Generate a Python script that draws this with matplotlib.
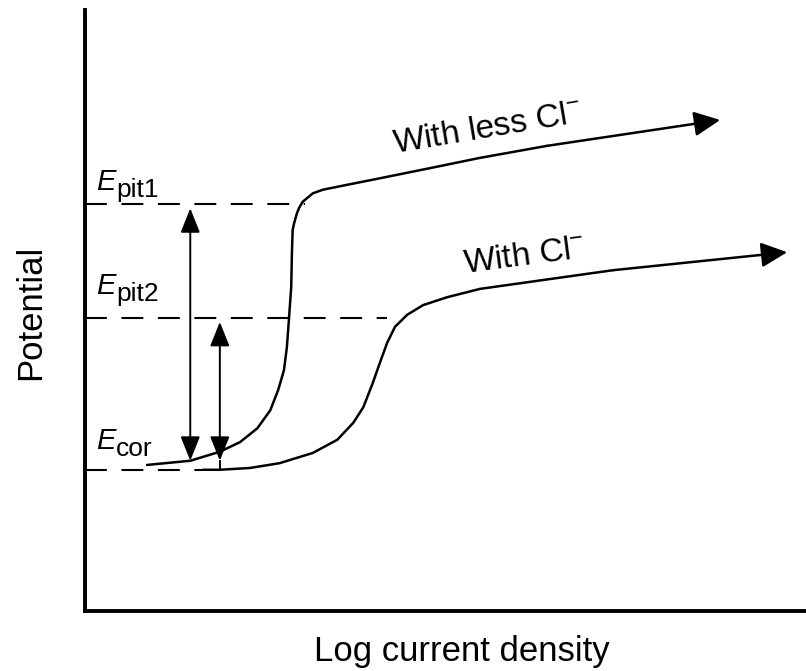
import matplotlib.pyplot as plt

plt.rcParams['font.family'] = ['Liberation Sans', 'DejaVu Sans']
plt.rcParams['mathtext.fontset'] = 'custom'
plt.rcParams['mathtext.rm'] = 'Liberation Sans'
plt.rcParams['mathtext.it'] = 'Liberation Sans:italic'

# characteristic potentials (arbitrary units)
e_pit1 = 6.77
e_pit2 = 4.88
e_cor = 2.35

# polarization curve with less chloride (last point = arrow tip)
less_cl_x = [0.86, 1.46, 1.87, 2.15, 2.39, 2.57, 2.68, 2.76, 2.80, 2.83, 2.86,
             2.87, 2.88, 2.90, 2.94, 2.97, 3.02, 3.09, 3.16, 3.30, 3.63, 4.09,
             4.79, 5.48, 6.41, 8.81]
less_cl_y = [2.43, 2.50, 2.65, 2.81, 3.04, 3.34, 3.68, 4.01, 4.39, 4.88, 5.39,
             5.96, 6.34, 6.45, 6.62, 6.71, 6.81, 6.88, 6.95, 7.01, 7.09, 7.20,
             7.37, 7.54, 7.74, 8.17]

# polarization curve with chloride (last point = arrow tip)
cl_x = [1.64, 1.87, 2.29, 2.70, 3.16, 3.50, 3.72, 3.86, 3.99, 4.09, 4.19,
        4.30, 4.47, 4.69, 5.02, 5.48, 7.32, 9.74]
cl_y = [2.35, 2.35, 2.38, 2.46, 2.63, 2.85, 3.13, 3.39, 3.79, 4.13, 4.46,
        4.73, 4.93, 5.09, 5.22, 5.36, 5.67, 5.97]

# where the dashed level lines stop
pit1_end = 3.05
pit2_end = 4.19
cor_end = 1.64

fig = plt.figure(figsize=(8.06, 6.71), dpi=100)
ax = fig.add_axes([85 / 806, 60 / 671, 721 / 806, 601 / 671])
ax.set_xlim(0, 10)
ax.set_ylim(0, 10)

for side in ['top', 'right']:
    ax.spines[side].set_visible(False)
for side in ['left', 'bottom']:
    ax.spines[side].set_linewidth(2.8)
ax.set_xticks([])
ax.set_yticks([])

# dashed potential levels
for level, end in [(e_pit1, pit1_end), (e_pit2, pit2_end), (e_cor, cor_end)]:
    ax.plot([0, end], [level, level], color='k', lw=1.5, dashes=(10.5, 7))

# curves, ending in an arrowhead
curve_kw = dict(color='k', lw=1.8, solid_capstyle='round', solid_joinstyle='round')
head = dict(arrowstyle='-|>,head_length=0.8,head_width=0.38', mutation_scale=20,
            color='k', lw=1.8, shrinkA=0, shrinkB=0)
for xs, ys in [(less_cl_x, less_cl_y), (cl_x, cl_y)]:
    ax.plot(xs[:-1], ys[:-1], **curve_kw)
    ax.annotate('', xy=(xs[-1], ys[-1]), xytext=(xs[-2], ys[-2]), arrowprops=head)

# double arrows marking the pitting windows
span = dict(arrowstyle='<|-|>,head_length=0.75,head_width=0.3', mutation_scale=20,
            color='k', lw=1.4, shrinkA=0, shrinkB=0)
ax.annotate('', xy=(1.46, e_pit1 - 0.07), xytext=(1.46, 2.50), arrowprops=span)
ax.annotate('', xy=(1.87, e_pit2 - 0.07), xytext=(1.87, e_cor + 0.15), arrowprops=span)
ax.plot([1.87, 1.87], [e_cor, e_cor + 0.15], color='k', lw=1.4)

# curve labels
ax.text(4.30, 7.62, 'With less Cl$^{-}$', fontsize=24, rotation=9.5,
        rotation_mode='anchor', ha='left', va='baseline')
ax.text(5.27, 5.62, 'With Cl$^{-}$', fontsize=24, rotation=7.5,
        rotation_mode='anchor', ha='left', va='baseline')


def level_label(y, sub):
    e = ax.text(0.15, y, 'E', fontsize=21, style='italic', ha='left', va='baseline')
    ax.annotate(sub, xy=(1, 0), xycoords=e, xytext=(1, -6),
                textcoords='offset pixels', fontsize=19, ha='left', va='bottom')


level_label(7.00, 'pit1')
level_label(5.27, 'pit2')
level_label(2.70, 'cor')

ax.set_xlabel('Log current density', fontsize=25)
ax.set_ylabel('Potential', fontsize=25)
ax.xaxis.set_label_coords(0.523, -0.04)
ax.yaxis.set_label_coords(-0.053, 0.4975)

fig.savefig('out.png', dpi=100)
